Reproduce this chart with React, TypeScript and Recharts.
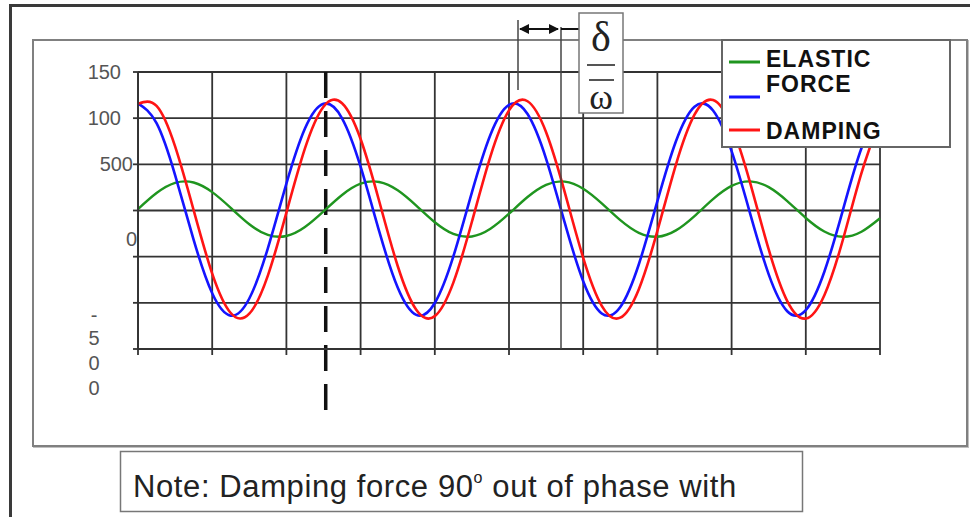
import { LineChart, Line, XAxis, YAxis, CartesianGrid, Legend, ReferenceLine } from 'recharts'

// sample positions along the time axis (one unit = one grid column)
const xs = [
  0, 0.25, 0.5, 0.75, 1, 1.25, 1.5, 1.75, 2, 2.25, 2.5, 2.75, 3, 3.25, 3.5, 3.75, 4, 4.25, 4.5, 4.75, 5,
  5.25, 5.5, 5.75, 6, 6.25, 6.5, 6.75, 7, 7.25, 7.5, 7.75, 8, 8.25, 8.5, 8.75, 9, 9.25, 9.5, 9.75, 10,
]
const elastic = [
  15, 189, 299, 303, 199, 28, -149, -264, -276, -179, -10, 168, 290, 309, 219, 53, -127, -254, -281, -198, -35,
  146, 278, 313, 236, 77, -105, -242, -284, -215, -60, 123, 266, 315, 253, 102, -81, -228, -285, -230, -84,
]
const force = [
  1160, 946, 384, -318, -897, -1139, -953, -409, 291, 887, 1156, 999, 474, -224, -835, -1131, -1002, -497, 197,
  821, 1144, 1045, 560, -129, -766, -1115, -1045, -582, 101, 750, 1124, 1083, 643, -33, -692, -1091, -1079,
  -663, 5, 674, 1096,
]
const damping = [
  1155, 1133, 694, 3, -683, -1110, -1118, -705, -23, 672, 1124, 1162, 774, 103, -601, -1075, -1144, -781, -122,
  587, 1084, 1183, 848, 202, -513, -1032, -1161, -852, -221, 498, 1038, 1196, 915, 299, -422, -981, -1170,
  -917, -317, 406, 984,
]

const xTicks = [0, 1, 2, 3, 4, 5, 6, 7, 8, 9, 10]
const yTicks = [1500, 1000, 500, 0, -500, -1000, -1500]
const yTickLabels = ['150', '100', '500', '0', '', '-500', '']
const legendKeys = ['elastic', 'force', 'damping']
const legendLabels = [['ELASTIC', 'FORCE'], [], ['DAMPING']]
const phaseMarkX = 2.53
const noteText = ['Note: Damping force 90', 'o', ' out of phase with']

const data = xs.map((x, i) => ({ x, elastic: elastic[i], force: force[i], damping: damping[i] }))

const sans = "'Liberation Sans', Arial, sans-serif"
const serif = "'Liberation Serif', 'DejaVu Serif', serif"
const gridColor = '#333'

function YTick({ x, y, payload }: any) {
  const label = yTickLabels[yTicks.indexOf(payload.value)]
  const style = { fontFamily: sans, fontSize: 20, fill: '#555' }
  if (!label) return <g />
  if (label === '-500') {
    return (
      <g style={style}>
        {label.split('').map((ch, i) => (
          <text key={i} x={x - 37} y={y + [12, 35, 60, 85][i]} textAnchor="middle" dy="0.35em">
            {ch}
          </text>
        ))}
      </g>
    )
  }
  const dx = label === '500' ? 2 : label === '0' ? 6 : -10
  const dyPx = label === '0' ? 28 : 0
  return (
    <text x={x + dx} y={y + dyPx} textAnchor="end" dy="0.35em" style={style}>
      {label}
    </text>
  )
}

function LegendBox({ payload }: any) {
  const lineY = [23, 58, 91]
  const textY = [
    [28, 53],
    [],
    [100],
  ]
  const items = legendKeys.map((k) => (payload || []).find((p: any) => p.dataKey === k))
  return (
    <svg width={231} height={110} style={{ display: 'block' }}>
      <rect x={1} y={1} width={228} height={107} fill="#fff" stroke="#666" strokeWidth={2} />
      {items.map((p: any, i: number) =>
        p ? (
          <g key={i}>
            <line x1={8} x2={39} y1={lineY[i]} y2={lineY[i]} stroke={p.color} strokeWidth={3} />
            {legendLabels[i].map((t, j) => (
              <text
                key={j}
                x={45}
                y={textY[i][j]}
                fontFamily={sans}
                fontWeight="bold"
                fontSize={23}
                letterSpacing={1}
                fill="#111"
              >
                {t}
              </text>
            ))}
          </g>
        ) : null
      )}
    </svg>
  )
}

export default function App() {
  return (
    <div style={{ position: 'absolute', left: 0, top: 0, width: 970, height: 517, background: '#fff', overflow: 'hidden' }}>
      {/* outer frame */}
      <div style={{ position: 'absolute', left: 9, top: 4, width: 961, height: 2.5, background: '#3a3a3a' }} />
      <div style={{ position: 'absolute', left: 9, top: 4, width: 2.5, height: 513, background: '#3a3a3a' }} />
      {/* chart frame */}
      <div
        style={{
          position: 'absolute',
          left: 32,
          top: 39,
          width: 932,
          height: 404,
          border: '2px solid #808080',
          boxShadow: '1px 1px 0 #c0c0c0',
        }}
      />
      <div style={{ position: 'absolute', left: 0, top: 0 }}>
        <LineChart width={970} height={517} data={data} margin={{ top: 72, right: 90, bottom: 138, left: 78 }}>
          <CartesianGrid stroke={gridColor} strokeWidth={1.8} />
          <XAxis
            dataKey="x"
            type="number"
            domain={[0, 10]}
            ticks={xTicks}
            height={30}
            tick={() => <g />}
            tickSize={6}
            stroke={gridColor}
            strokeWidth={1.8}
          />
          <YAxis
            type="number"
            domain={[-1500, 1500]}
            ticks={yTicks}
            width={60}
            tick={<YTick />}
            tickSize={5}
            tickMargin={2}
            stroke={gridColor}
            strokeWidth={1.8}
            interval={0}
          />
          <ReferenceLine
            segment={[
              { x: phaseMarkX, y: 1500 },
              { x: phaseMarkX, y: -2270 },
            ]}
            ifOverflow="visible"
            stroke="#111"
            strokeWidth={3.5}
            strokeDasharray="26 13"
          />
          <Line type="natural" dataKey="elastic" name="ELASTIC FORCE" stroke="#1f951f" strokeWidth={2.4} dot={false} isAnimationActive={false} />
          <Line type="natural" dataKey="force" name="FORCE" stroke="#1414ff" strokeWidth={2.6} dot={false} isAnimationActive={false} />
          <Line type="natural" dataKey="damping" name="DAMPING" stroke="#ff1414" strokeWidth={2.6} dot={false} isAnimationActive={false} />
          <Legend
            layout="vertical"
            align="center"
            verticalAlign="middle"
            content={<LegendBox />}
            wrapperStyle={{ position: 'absolute', left: 721, top: 39, width: 231, height: 110 }}
          />
        </LineChart>
      </div>
      {/* annotations */}
      <svg width={970} height={517} style={{ position: 'absolute', left: 0, top: 0, pointerEvents: 'none' }}>
        <defs>
          <marker id="ah" viewBox="0 0 10 10" refX="9" refY="5" markerWidth="5" markerHeight="5" orient="auto-start-reverse">
            <path d="M0,0 L10,5 L0,10 z" fill="#111" />
          </marker>
        </defs>
        <line x1={518} x2={518} y1={20} y2={90} stroke="#444" strokeWidth={1.5} />
        <line x1={561} x2={561} y1={27} y2={349} stroke="#444" strokeWidth={1.5} />
        <line x1={520} x2={558} y1={29} y2={29} stroke="#111" strokeWidth={2} markerStart="url(#ah)" markerEnd="url(#ah)" />
        <line x1={561} x2={580} y1={29} y2={29} stroke="#111" strokeWidth={2} />
        <rect x={579} y={13} width={44} height={100} fill="#fff" stroke="#777" strokeWidth={1.5} />
        <text x={601} y={51} textAnchor="middle" fontFamily={serif} fontSize={42} fill="#222">
          δ
        </text>
        <line x1={587} x2={615} y1={65} y2={65} stroke="#555" strokeWidth={2} />
        <line x1={589} x2={614} y1={80} y2={80} stroke="#555" strokeWidth={2} />
        <text x={601} y={109} textAnchor="middle" fontFamily={serif} fontSize={36} fill="#222">
          ω
        </text>
        {/* note box */}
        <rect x={120.5} y={451.5} width={682} height={60} fill="#fff" stroke="#777" strokeWidth={1.5} />
        <text x={133} y={497} fontFamily={sans} fontSize={31} letterSpacing={0.6} fill="#222">
          {noteText[0]}
          <tspan fontSize={16} dy={-14}>
            {noteText[1]}
          </tspan>
          <tspan dy={14}>{noteText[2]}</tspan>
        </text>
      </svg>
    </div>
  )
}
